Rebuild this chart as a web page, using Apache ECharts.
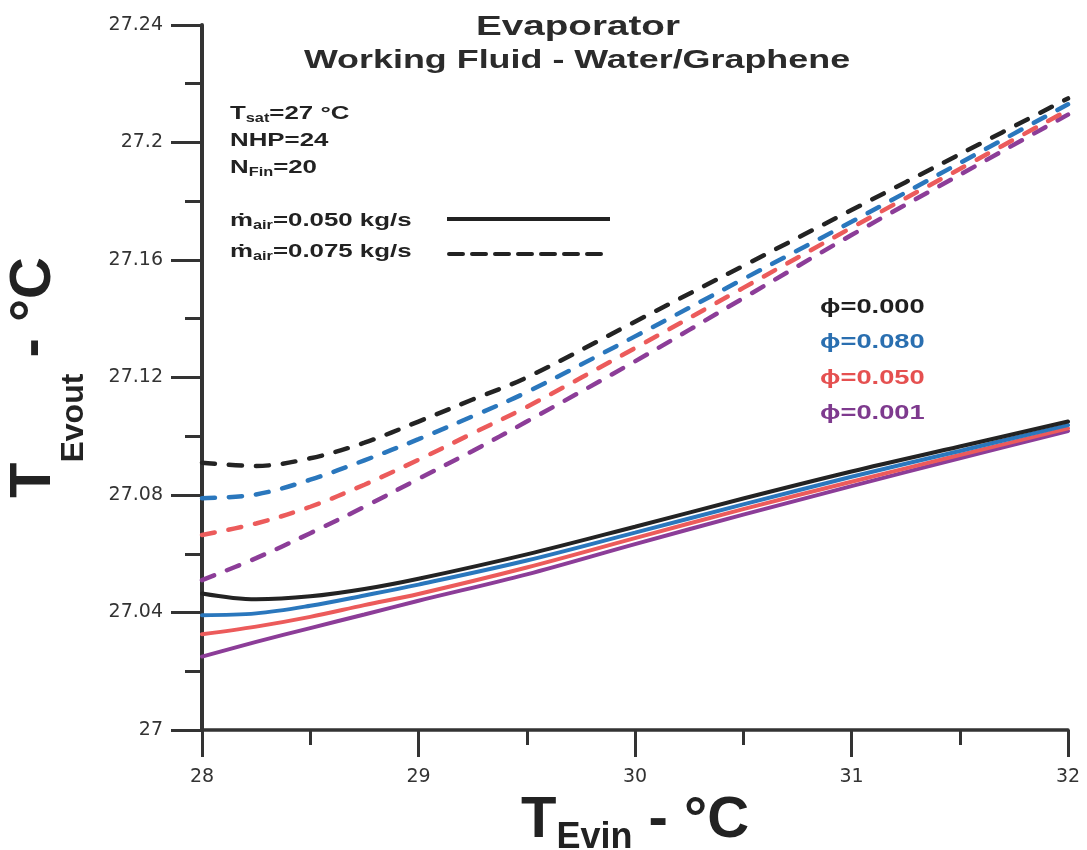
<!DOCTYPE html>
<html><head><meta charset="utf-8">
<script src="https://cdn.jsdelivr.net/npm/echarts@6/dist/echarts.min.js"></script>
<style>html,body{margin:0;padding:0;background:#fff}#c{width:1087px;height:850px}</style>
</head><body><div id="c"></div>
<script>
// x positions (T_Evin, °C)
const xSolid = [28, 28.25, 28.5, 28.75, 29, 29.5, 30, 30.5, 31, 31.5, 32];
const xDashed = [28, 28.25, 28.5, 28.75, 29, 29.25, 29.5, 30, 30.5, 31, 31.5, 32];

// m_air = 0.050 kg/s (solid)
const solidPhi000 = [27.0465, 27.0445, 27.0455, 27.0480, 27.0515, 27.0598, 27.0692, 27.0788, 27.0880, 27.0965, 27.1050];
const solidPhi080 = [27.0391, 27.0397, 27.0423, 27.0458, 27.0495, 27.0577, 27.0672, 27.0768, 27.0862, 27.0950, 27.1038];
const solidPhi050 = [27.0326, 27.0352, 27.0385, 27.0425, 27.0463, 27.0553, 27.0653, 27.0752, 27.0845, 27.0936, 27.1027];
const solidPhi001 = [27.0250, 27.0300, 27.0347, 27.0393, 27.0440, 27.0530, 27.0633, 27.0733, 27.0830, 27.0925, 27.1018];

// m_air = 0.075 kg/s (dashed)
const dashPhi000 = [27.0910, 27.0899, 27.0925, 27.0978, 27.1050, 27.1125, 27.1200, 27.1390, 27.1580, 27.1770, 27.1960, 27.2150];
const dashPhi080 = [27.0789, 27.0802, 27.0852, 27.0918, 27.0990, 27.1068, 27.1150, 27.1340, 27.1535, 27.1730, 27.1930, 27.2130];
const dashPhi050 = [27.0664, 27.0703, 27.0760, 27.0835, 27.0920, 27.1010, 27.1100, 27.1300, 27.1505, 27.1710, 27.1910, 27.2110];
const dashPhi001 = [27.0510, 27.0585, 27.0670, 27.0760, 27.0855, 27.0950, 27.1050, 27.1255, 27.1470, 27.1685, 27.1890, 27.2095];

const phiLabels = ['ϕ=0.000', 'ϕ=0.080', 'ϕ=0.050', 'ϕ=0.001'];
const massLabels = ['0.050 kg/s', '0.075 kg/s'];
const annotLabels = ['=27 °C', 'NHP=24', '=20'];

const colors = ['#232323', '#2a77bd', '#ec5b5b', '#8c3d98'];
const textColors = ['#1f1f1f', '#2a6fb0', '#e55050', '#7e3a8e'];

const pair = (xs, ys) => xs.map((x, i) => [x, ys[i]]);
const solids = [solidPhi001, solidPhi050, solidPhi080, solidPhi000];
const dashes = [dashPhi001, dashPhi050, dashPhi080, dashPhi000];
const colorOrder = [3, 2, 1, 0];

const series = [];
dashes.forEach((d, k) => series.push({
  type: 'line', data: pair(xDashed, d), smooth: 0.35, showSymbol: false, symbol: 'none',
  lineStyle: { color: colors[colorOrder[k]], width: 4.5, type: [13, 14], cap: 'round' }, z: 2
}));
solids.forEach((d, k) => series.push({
  type: 'line', data: pair(xSolid, d), smooth: 0.35, showSymbol: false, symbol: 'none',
  lineStyle: { color: colors[colorOrder[k]], width: 4, cap: 'round' }, z: 3
}));

const F = 'Liberation Sans, Arial, sans-serif';
const xNameRich = {
  T: { fontFamily: F, fontWeight: 'bold', fontSize: 58, color: '#222', lineHeight: 64, verticalAlign: 'top' },
  s: { fontFamily: F, fontWeight: 'bold', fontSize: 36, color: '#222', lineHeight: 20, verticalAlign: 'bottom' }
};
const yNameRich = {
  T: { fontFamily: F, fontWeight: 'bold', fontSize: 58, color: '#222', lineHeight: 85, verticalAlign: 'top' },
  s: { fontFamily: F, fontWeight: 'bold', fontSize: 32, color: '#222', lineHeight: 20, verticalAlign: 'bottom' }
};
const annRich = {
  a: { fontFamily: F, fontWeight: 'bold', fontSize: 19, fill: '#222', lineHeight: 22 },
  b: { fontFamily: F, fontWeight: 'bold', fontSize: 12, fill: '#222', lineHeight: 10, verticalAlign: 'bottom' }
};
function annText(x, y, text) {
  return { type: 'text', x: x, y: y, scaleX: 1.36, z: 10,
    style: { text: text, rich: annRich, align: 'left', verticalAlign: 'middle' } };
}

const graphic = [
  { type: 'text', x: 578, y: 27, scaleX: 1.38, z: 10,
    style: { text: 'Evaporator', fontFamily: F, fontWeight: 'bold', fontSize: 28, fill: '#2b2b2b', align: 'center', verticalAlign: 'middle' } },
  { type: 'text', x: 577, y: 61, scaleX: 1.38, z: 10,
    style: { text: 'Working Fluid - Water/Graphene', fontFamily: F, fontWeight: 'bold', fontSize: 26, fill: '#2b2b2b', align: 'center', verticalAlign: 'middle' } },
  annText(230, 114, '{a|T}{b|sat}{a|' + annotLabels[0] + '}'),
  annText(230, 141, '{a|' + annotLabels[1] + '}'),
  annText(230, 168, '{a|N}{b|Fin}{a|' + annotLabels[2] + '}'),
  annText(230, 221, '{a|ṁ}{b|air}{a|=' + massLabels[0] + '}'),
  annText(230, 252, '{a|ṁ}{b|air}{a|=' + massLabels[1] + '}'),
  { type: 'line', z: 10, shape: { x1: 447, y1: 219, x2: 610, y2: 219 }, style: { stroke: '#222', lineWidth: 4 } },
  { type: 'line', z: 10, shape: { x1: 449, y1: 254, x2: 610, y2: 254 }, style: { stroke: '#222', lineWidth: 4, lineDash: [14, 9], lineCap: 'round' } }
];
phiLabels.forEach((t, i) => graphic.push({
  type: 'text', x: 820, y: [307, 342, 378, 413][i], scaleX: 1.3, z: 10,
  style: { text: t, fontFamily: F, fontWeight: 'bold', fontSize: 21, fill: textColors[i], align: 'left', verticalAlign: 'middle' }
}));

const axisCol = '#333';
const option = {
  backgroundColor: '#fff',
  animation: false,
  grid: { left: 202, right: 19, top: 25, bottom: 120, containLabel: false, outerBoundsMode: 'none' },
  xAxis: {
    type: 'value', min: 28, max: 32, interval: 1,
    name: '{T|T}{s|Evin}{T| - °C}', nameLocation: 'middle', nameGap: 48,
    nameTextStyle: { rich: xNameRich },
    axisLine: { show: true, onZero: false, lineStyle: { color: axisCol, width: 3.5 } },
    axisTick: { show: true, inside: false, length: 27, lineStyle: { color: axisCol, width: 3 } },
    minorTick: { show: true, splitNumber: 2, length: 15, lineStyle: { color: axisCol, width: 3 } },
    splitLine: { show: false }, minorSplitLine: { show: false },
    axisLabel: { margin: 38, fontFamily: 'DejaVu Sans', fontSize: 19, color: '#333', formatter: v => String(+(+v).toFixed(2)) }
  },
  yAxis: {
    type: 'value', min: 27, max: 27.24, interval: 0.04,
    name: '{T|T}{s|Evout}{T| - °C}', nameLocation: 'middle', nameGap: 112, nameRotate: 90,
    nameTextStyle: { rich: yNameRich },
    axisLine: { show: true, onZero: false, lineStyle: { color: axisCol, width: 4 } },
    axisTick: { show: true, inside: false, length: 31, lineStyle: { color: axisCol, width: 3 } },
    minorTick: { show: true, splitNumber: 2, length: 17, lineStyle: { color: axisCol, width: 3 } },
    splitLine: { show: false }, minorSplitLine: { show: false },
    axisLabel: { margin: 39, fontFamily: 'DejaVu Sans', fontSize: 19, color: '#333', formatter: v => String(+(+v).toFixed(2)) }
  },
  series: series,
  graphic: graphic
};
const chart = echarts.init(document.getElementById('c'), null, { renderer: 'canvas' });
chart.setOption(option);
</script>
</body></html>
